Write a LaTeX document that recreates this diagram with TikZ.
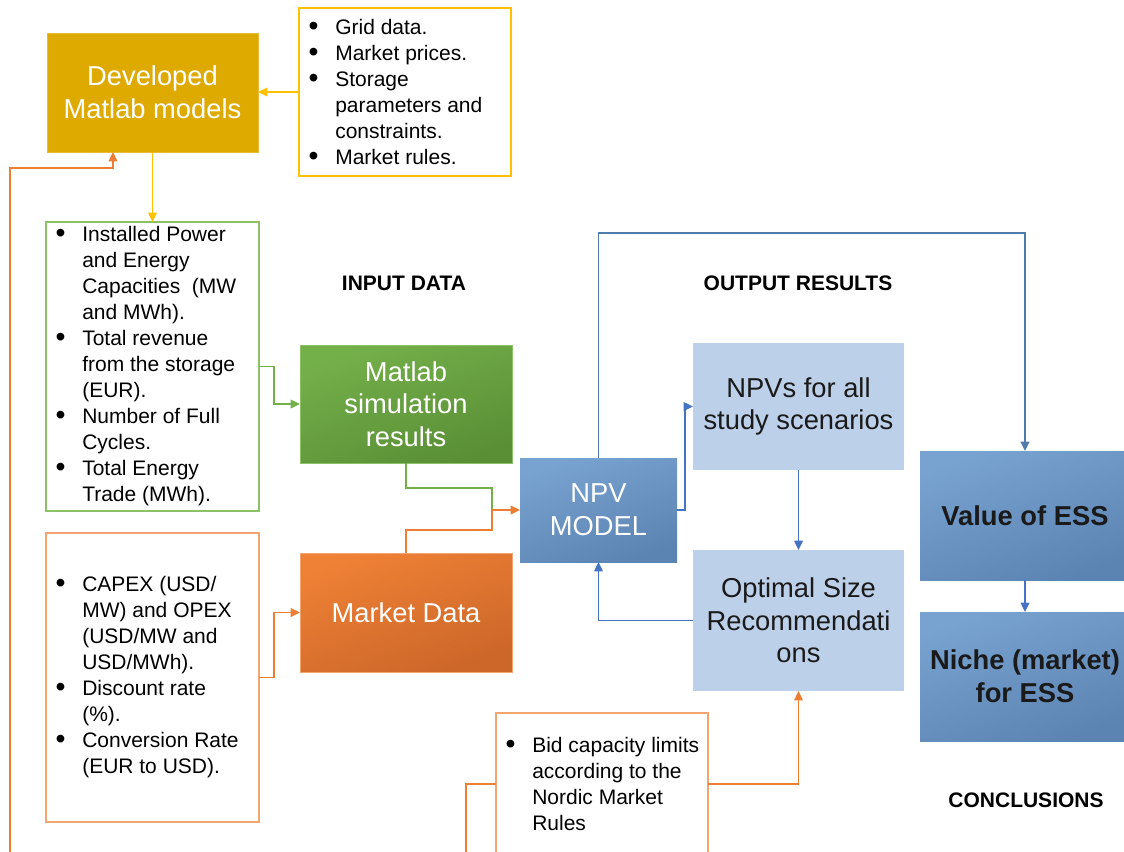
\documentclass[tikz,border=0pt]{standalone}
\usepackage{fontspec}
\setmainfont{Liberation Sans}
\usetikzlibrary{arrows.meta,calc}
\definecolor{gold}{HTML}{DEAA00}
\definecolor{goldL}{HTML}{E8BC3A}
\definecolor{yel}{HTML}{FFC000}
\definecolor{yelL}{HTML}{FFD54F}
\definecolor{grnA}{HTML}{74B04A}
\definecolor{grnB}{HTML}{5A8F36}
\definecolor{grnL}{HTML}{8CC168}
\definecolor{orgA}{HTML}{EE8135}
\definecolor{orgB}{HTML}{CC6629}
\definecolor{org}{HTML}{ED7D31}
\definecolor{orgL}{HTML}{F4A56F}
\definecolor{bluA}{HTML}{78A2D0}
\definecolor{bluB}{HTML}{5C84B2}
\definecolor{blu}{HTML}{4472C4}
\definecolor{bluD}{HTML}{4F7CAC}
\definecolor{lblu}{HTML}{BDD0E9}
\definecolor{dtext}{HTML}{1A1A1A}
\newcommand\placebox[7]{\node[#6, minimum width={(#4-#2)*0.75pt}, minimum height={(#5-#3)*0.75pt}] (#1) at ({(#2+#4)/2},{(#3+#5)/2}) {#7};}
\newcommand\bul[1]{\makebox[20pt][l]{\raisebox{-0.6pt}{\scalebox{1.35}{\textbullet}}}#1}
\newcommand\cnt[1]{\hspace*{20pt}#1}
\tikzset{
  base/.style={inner sep=0pt, outer sep=0pt},
  bigtext/.style={font=\fontsize{20.5}{24.5}\selectfont, align=center},
  colbox/.style={base, bigtext, text=white, shading=axis},
  lightbox/.style={base, bigtext, fill=lblu, text=dtext},
  listbox/.style={base, draw, line width=1pt, fill=white},
  listtext/.style={inner sep=0pt, anchor=west, align=left, font=\fontsize{15.75}{19.5}\selectfont},
  lab/.style={inner sep=0pt, font=\fontsize{15.75}{19}\selectfont\bfseries},
  tip/.style={-{Triangle[length=7pt,width=6.5pt]}},
  conn/.style={line width=1pt},
}
\begin{document}
\begin{tikzpicture}[x=0.75pt, y=-0.75pt]
\clip (0,0) rectangle (1124,851);
\fill[white] (0,0) rectangle (1124,851);

% boxes
\placebox{dev}{47}{33}{258}{152}{base, bigtext, fill=gold, draw=goldL, text=white}{Developed\\Matlab models}
\placebox{ylist}{299}{8}{511}{176}{listbox, draw=yel}{}
\placebox{glist}{46}{222}{259}{511}{listbox, draw=grnL}{}
\placebox{olist}{46}{533}{259}{822}{listbox, draw=orgL}{}
\placebox{sim}{300}{345}{512}{463}{colbox, top color=grnA, bottom color=grnB, shading angle=20, draw=grnL}{Matlab\\simulation\\results}
\placebox{market}{300}{553}{512}{672}{colbox, top color=orgA, bottom color=orgB, shading angle=20, draw=orgL}{Market Data}
\placebox{npv}{520}{458}{677}{562}{colbox, top color=bluA, bottom color=bluB, shading angle=20}{NPV\\MODEL}
\placebox{npvs}{693}{343}{904}{470}{lightbox}{NPVs for all\\study scenarios}
\placebox{opt}{693}{550}{904}{691}{lightbox}{Optimal Size\\Recommendati\\ons}
\placebox{value}{920}{451}{1130}{580}{colbox, top color=bluA, bottom color=bluB, shading angle=20, text=dtext, font=\fontsize{20.5}{24.5}\selectfont\bfseries}{Value of ESS}
\placebox{niche}{920}{612}{1130}{741}{colbox, top color=bluA, bottom color=bluB, shading angle=20, text=dtext, font=\fontsize{20.5}{24.5}\selectfont\bfseries}{Niche (market)\\for ESS}
\placebox{bid}{496}{713}{708}{855}{listbox, draw=orgL}{}

% list texts
\node[listtext] (ytext) at ([xshift=7pt]ylist.west) {\bul{Grid data.}\\\bul{Market prices.}\\\bul{Storage}\\\cnt{parameters and}\\\cnt{constraints.}\\\bul{Market rules.}};
\node[listtext] (gtext) at ([xshift=7pt]glist.west) {\bul{Installed Power}\\\cnt{and Energy}\\\cnt{Capacities\ \ (MW}\\\cnt{and MWh).}\\\bul{Total revenue}\\\cnt{from the storage}\\\cnt{(EUR).}\\\bul{Number of Full}\\\cnt{Cycles.}\\\bul{Total Energy}\\\cnt{Trade (MWh).}};
\node[listtext] (otext) at ([xshift=7pt]olist.west) {\bul{CAPEX (USD/}\\\cnt{MW) and OPEX}\\\cnt{(USD/MW and}\\\cnt{USD/MWh).}\\\bul{Discount rate}\\\cnt{(\%).}\\\bul{Conversion Rate}\\\cnt{(EUR to USD).}};
\node[listtext] (btext) at ([xshift=7pt]bid.west) {\bul{Bid capacity limits}\\\cnt{according to the}\\\cnt{Nordic Market}\\\cnt{Rules}};

% labels
\node[lab] (inlab) at (404,283) {INPUT DATA};
\node[lab] (outlab) at (798,283) {OUTPUT RESULTS};
\node[lab] (conlab) at (1026,800) {CONCLUSIONS};

% connectors
\coordinate (merge) at (492,510);
\coordinate (looptop) at (0,233);
\coordinate (devin) at (113,152);
\coordinate (farleft) at (10,880);

\draw[conn, yel, tip] (ylist.west) -- (ylist.west -| dev.east);
\draw[conn, yel, tip] (dev.south) -- (glist.north);
\draw[conn, grnA, tip] (glist.east) -- ++(15,0) |- (sim.west);
\draw[conn, org, tip] (olist.east) -- ++(15,0) |- (market.west);
\draw[conn, grnA] (sim.south) -- ++(0,25) -| (merge);
\draw[conn, org] (market.north) -- ++(0,-23) -| (merge);
\draw[conn, org, tip] (merge) -- (npv.west);
\draw[conn, blu, tip] (npv.east) -- ++(8,0) |- (npvs.west);
\draw[conn, blu, tip] (npvs.south) -- (opt.north);
\draw[conn, blu, tip] (opt.west) -| (npv.south);
\draw[line width=1.4pt, bluD, tip] (npv.north) -- (npv.north |- looptop) -| (value.north);
\draw[conn, blu, tip] (value.south) -- (niche.north);
\draw[conn, org, tip] (bid.east) -| (opt.south);
\draw[conn, org, tip] (bid.west) -- ++(-30,0) -- ++(0,100) -| (farleft) |- ($(devin)+(0,16)$) -- (devin);
\end{tikzpicture}
\end{document}
